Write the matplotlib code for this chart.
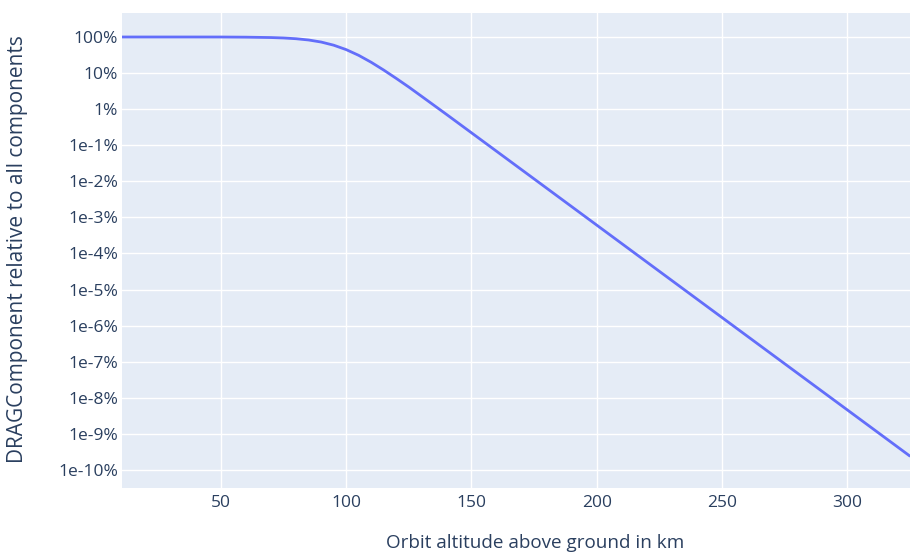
import matplotlib
matplotlib.use("Agg")
import matplotlib.pyplot as plt
from matplotlib.ticker import FixedLocator, FixedFormatter

# Altitude above ground (km) and the drag share of the total acceleration (%)
altitude_km = [10, 20, 30, 40, 50, 60, 70, 75, 80, 85, 90, 95, 100, 105, 110,
               115, 120, 125, 130, 140, 150, 175, 200, 225, 250, 275, 300, 325]
drag_share_pct = [100.0, 100.0, 100.0, 99.98, 99.9, 98.9, 96.5, 93.9, 89.5, 82.6,
                  72.5, 59.3, 44.7, 31.0, 19.9, 12.1, 7.11, 4.10, 2.30, 0.72,
                  0.222, 1.17e-2, 6.14e-4, 3.22e-5, 1.69e-6, 8.87e-8, 4.67e-9,
                  2.45e-10]

x_ticks = [50, 100, 150, 200, 250, 300]
y_ticks = [100, 10, 1, 1e-1, 1e-2, 1e-3, 1e-4, 1e-5, 1e-6, 1e-7, 1e-8, 1e-9, 1e-10]
y_tick_labels = ["100%", "10%", "1%", "1e-1%", "1e-2%", "1e-3%", "1e-4%",
                 "1e-5%", "1e-6%", "1e-7%", "1e-8%", "1e-9%", "1e-10%"]

x_title = "Orbit altitude above ground in km"
y_title = "DRAGComponent relative to all components"

FONT = ["Open Sans", "DejaVu Sans"]
TEXT = "#2a3f5f"
plt.rcParams["font.family"] = FONT

fig = plt.figure(figsize=(9.10, 5.53), dpi=100)
W, H = 910, 553
left, right, top, bottom = 122, 910, 13, 488
ax = fig.add_axes([left / W, 1 - bottom / H, (right - left) / W, (bottom - top) / H])
ax.set_facecolor("#E5ECF6")

ax.plot(altitude_km, drag_share_pct, color="#636EFA", lw=2.0, solid_capstyle="round",
        zorder=3)

ax.set_yscale("log")
ax.set_xlim(10.5, 325.1)
ax.set_ylim(10 ** -10.499, 10 ** 2.665)

ax.xaxis.set_major_locator(FixedLocator(x_ticks))
ax.yaxis.set_major_locator(FixedLocator(y_ticks))
ax.yaxis.set_major_formatter(FixedFormatter(y_tick_labels))
ax.yaxis.set_minor_locator(FixedLocator([]))

ax.grid(True, which="major", color="white", lw=1.0, zorder=1)
ax.set_axisbelow(True)
for s in ax.spines.values():
    s.set_visible(False)
ax.tick_params(axis="both", length=0, labelsize=12.5, labelcolor=TEXT)
ax.tick_params(axis="y", pad=3)
ax.tick_params(axis="x", pad=5)

fig.text(535.5 / W, 1 - 543 / H, x_title, ha="center", va="center",
         fontsize=13.6, color=TEXT)
fig.text(18 / W, 1 - 249 / H, y_title, ha="center", va="center", rotation=90,
         fontsize=15, color=TEXT)

fig.savefig("out.png", dpi=100, facecolor="white")
